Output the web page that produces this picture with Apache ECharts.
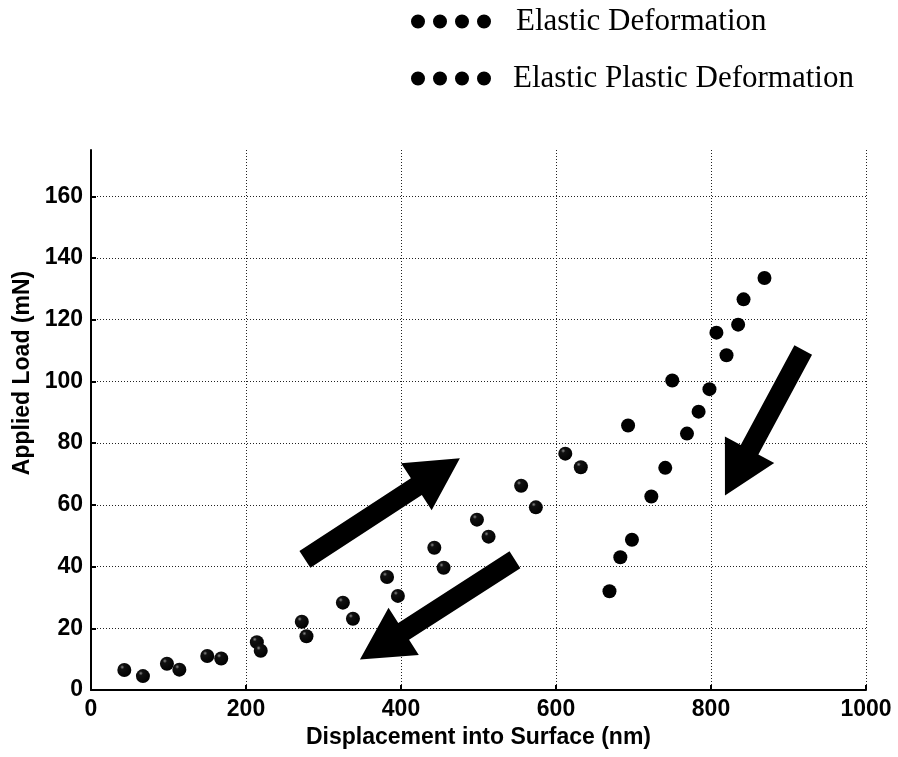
<!DOCTYPE html>
<html>
<head>
<meta charset="utf-8">
<script src="https://cdn.jsdelivr.net/npm/echarts@6/dist/echarts.min.js"></script>
<style>
  html, body { margin: 0; padding: 0; background: #fff; }
  #chart { width: 898px; height: 757px; }
</style>
</head>
<body>
<div id="chart"></div>
<script>
// ---- data ----
const seriesNames = ['Elastic Deformation', 'Elastic Plastic Deformation'];
const elasticX = [43, 67, 98, 114, 150, 168, 214, 219, 272, 278, 325, 338, 382, 396, 443, 455, 498, 513, 555, 574, 612, 632];
const elasticY = [6.5, 4.5, 8.5, 6.6, 11.0, 10.2, 15.5, 12.7, 22.1, 17.4, 28.3, 23.1, 36.6, 30.5, 46.1, 39.6, 55.2, 49.7, 66.2, 59.2, 76.6, 72.2];
const plasticX = [669, 683, 698, 693, 723, 741, 750, 769, 784, 798, 807, 820, 835, 842, 869];
const plasticY = [32.0, 43.0, 48.7, 85.7, 62.7, 72.0, 100.3, 83.1, 90.2, 97.5, 115.8, 108.5, 118.4, 126.6, 133.5];
const xTicks = [0, 200, 400, 600, 800, 1000];
const yTicks = [0, 20, 40, 60, 80, 100, 120, 140, 160];
// arrow annotations: tails and tips in data units
const arrowTails = [[276, 42.3], [547, 42.2], [919, 110.2]];
const arrowTips = [[476, 75.1], [347, 9.9], [818, 63.0]];

const pairs = (xs, ys) => xs.map((x, i) => [x, ys[i]]);

const sphere = new echarts.graphic.RadialGradient(0.35, 0.3, 0.75, [
  { offset: 0, color: '#8a8a8a' },
  { offset: 0.2, color: '#111' },
  { offset: 1, color: '#000' }
]);

const dotsIcon = 'path://M0,70a70,70 0 1,0 140,0a70,70 0 1,0 -140,0z' +
  'M220,70a70,70 0 1,0 140,0a70,70 0 1,0 -140,0z' +
  'M440,70a70,70 0 1,0 140,0a70,70 0 1,0 -140,0z' +
  'M660,70a70,70 0 1,0 140,0a70,70 0 1,0 -140,0z';

const legendBase = {
  orient: 'vertical',
  icon: dotsIcon,
  itemWidth: 80,
  itemHeight: 14,
  selectedMode: false,
  itemStyle: { color: '#000', opacity: 1 },
  textStyle: { fontFamily: 'Liberation Serif', fontSize: 31, color: '#000', padding: [0, 0, 0, 20] }
};

const chart = echarts.init(document.getElementById('chart'), null, { renderer: 'canvas' });

const axisFont = { fontFamily: 'Liberation Sans', fontWeight: 'bold', fontSize: 23, color: '#000' };
const gridLine = { show: true, lineStyle: { color: '#222', type: [1, 2], width: 1 } };

chart.setOption({
  animation: false,
  backgroundColor: '#fff',
  legend: [
    Object.assign({}, legendBase, { data: [seriesNames[0]], left: 406, top: 1 }),
    Object.assign({}, legendBase, { data: [seriesNames[1]], left: 406, top: 58,
      textStyle: Object.assign({}, legendBase.textStyle, { padding: [0, 0, 0, 17] }) })
  ],
  grid: { left: 91, right: 32, top: 150, bottom: 67, containLabel: false },
  xAxis: {
    type: 'value', min: xTicks[0], max: xTicks[xTicks.length - 1], interval: 200,
    name: 'Displacement into Surface (nm)', nameLocation: 'middle', nameGap: 33,
    nameTextStyle: axisFont,
    axisLine: { show: true, lineStyle: { color: '#000', width: 2 } },
    axisTick: { show: true, inside: true, length: 5, lineStyle: { color: '#000', width: 2 } },
    axisLabel: Object.assign({ margin: 8, formatter: v => String(v) }, axisFont),
    splitLine: Object.assign({ showMinLine: false }, gridLine)
  },
  yAxis: {
    type: 'value', min: 0, max: 175, interval: 20,
    name: 'Applied Load (mN)', nameLocation: 'middle', nameGap: 56,
    nameTextStyle: Object.assign({ padding: [0, 0, 0, 94] }, axisFont),
    axisLine: { show: true, lineStyle: { color: '#000', width: 2 } },
    axisTick: { show: true, inside: true, length: 5, lineStyle: { color: '#000', width: 2 } },
    axisLabel: Object.assign({ margin: 8, showMaxLabel: false,
      formatter: v => (yTicks.indexOf(v) >= 0 ? String(v) : '') }, axisFont),
    splitLine: Object.assign({ showMinLine: false, showMaxLine: false }, gridLine)
  },
  series: [
    { name: seriesNames[0], type: 'scatter', symbol: 'circle', symbolSize: 14,
      itemStyle: { color: sphere, opacity: 1 }, data: pairs(elasticX, elasticY) },
    { name: seriesNames[1], type: 'scatter', symbol: 'circle', symbolSize: 14,
      itemStyle: { color: '#000', opacity: 1 }, data: pairs(plasticX, plasticY) }
  ]
});

function arrowPolygon(tail, tip) {
  const a = chart.convertToPixel({ gridIndex: 0 }, tail);
  const b = chart.convertToPixel({ gridIndex: 0 }, tip);
  const dx = b[0] - a[0], dy = b[1] - a[1];
  const len = Math.sqrt(dx * dx + dy * dy);
  const ux = dx / len, uy = dy / len;
  const px = -uy, py = ux;
  const sw = 10, hw = 28, hl = 52;
  const bx = b[0] - ux * hl, by = b[1] - uy * hl;
  return [
    [a[0] + px * sw, a[1] + py * sw],
    [bx + px * sw, by + py * sw],
    [bx + px * hw, by + py * hw],
    [b[0], b[1]],
    [bx - px * hw, by - py * hw],
    [bx - px * sw, by - py * sw],
    [a[0] - px * sw, a[1] - py * sw]
  ];
}

chart.setOption({
  graphic: arrowTails.map((t, i) => ({
    type: 'polygon', z: 100,
    shape: { points: arrowPolygon(t, arrowTips[i]) },
    style: { fill: '#000' }
  }))
});
</script>
</body>
</html>
